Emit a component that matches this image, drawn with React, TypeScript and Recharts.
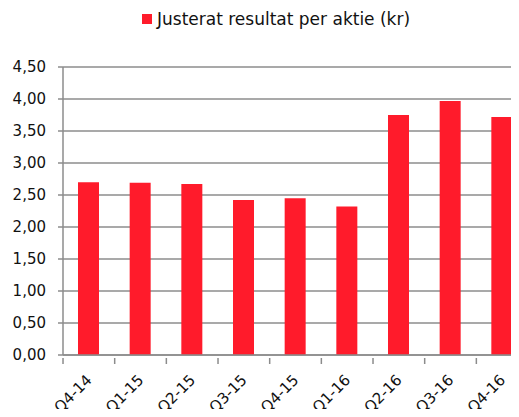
import React from "react";
import { BarChart, Bar, XAxis, YAxis, CartesianGrid, Legend } from "recharts";

const quarters = ["Q4-14", "Q1-15", "Q2-15", "Q3-15", "Q4-15", "Q1-16", "Q2-16", "Q3-16", "Q4-16"];
const eps = [2.7, 2.69, 2.67, 2.42, 2.45, 2.32, 3.75, 3.97, 3.72];
const yTicks = [0, 0.5, 1, 1.5, 2, 2.5, 3, 3.5, 4, 4.5];
const seriesName = "Justerat resultat per aktie (kr)";

const data = quarters.map((q, i) => ({ q, eps: eps[i] }));

const FONT = "'DejaVu Sans', sans-serif";
const RED = "#FF1B2B";
const GRID = "#8c8c8c";
const BAND = (528 - 63.3) / quarters.length;

const QuarterTick = (props: any) => {
  const { x, y, payload } = props;
  const left = x - BAND / 2;
  const ax = x + 4;
  const ay = y + 18;
  return (
    <g>
      <line x1={left} y1={y - 5} x2={left} y2={y + 1} stroke={GRID} strokeWidth={1.5} />
      <text
        x={ax}
        y={ay}
        transform={`rotate(-45, ${ax}, ${ay})`}
        textAnchor="end"
        fontFamily={FONT}
        fontSize={15}
        fill="#111"
      >
        {payload.value}
      </text>
    </g>
  );
};

const LegendBox = () => (
  <div style={{ display: "flex", alignItems: "center", height: 20, fontFamily: FONT, fontSize: 17, color: "#111" }}>
    <span style={{ width: 10, height: 10, background: RED, marginLeft: 142, marginRight: 5 }} />
    <span>{seriesName}</span>
  </div>
);

export default function App() {
  return (
    <div style={{ margin: -8, width: 519, height: 417, overflow: "hidden", background: "#fff" }}>
      <BarChart width={528} height={417} data={data} margin={{ top: 47, right: 0, bottom: 0, left: 0 }}>
        <CartesianGrid vertical={false} stroke={GRID} strokeWidth={1.5} />
        <XAxis
          dataKey="q"
          height={62}
          axisLine={{ stroke: GRID, strokeWidth: 1.5 }}
          tickLine={false}
          interval={0}
          tick={<QuarterTick />}
        />
        <YAxis
          width={63}
          domain={[0, 4.5]}
          ticks={yTicks}
          tickFormatter={(v: number) => v.toFixed(2).replace(".", ",")}
          axisLine={{ stroke: GRID, strokeWidth: 1.5 }}
          tickLine={{ stroke: GRID, strokeWidth: 1.5 }}
          tickSize={5}
          tickMargin={12}
          tick={{ fontFamily: FONT, fontSize: 15, fill: "#111" }}
          interval={0}
        />
        <Legend
          verticalAlign="top"
          content={<LegendBox />}
          wrapperStyle={{ top: 9, left: 0, width: 519 }}
        />
        <Bar dataKey="eps" name={seriesName} fill={RED} barSize={21} isAnimationActive={false} />
      </BarChart>
    </div>
  );
}
